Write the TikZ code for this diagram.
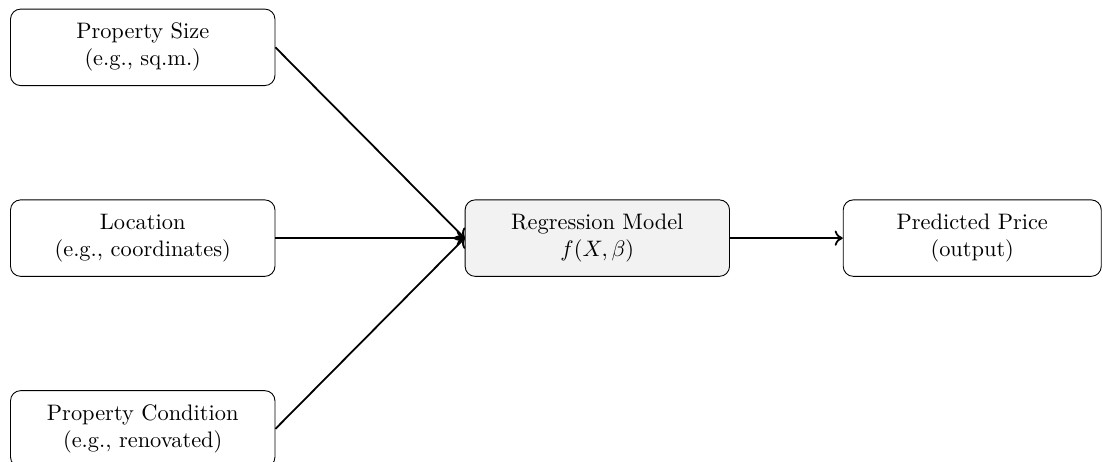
\documentclass[tikz,border=0pt]{standalone}
\usepackage{amsmath}
\usetikzlibrary{positioning, arrows.meta}
\tikzset{
  box/.style={
    rectangle, rounded corners=4.5pt,
    minimum width=4.15cm, minimum height=1.2cm,
    align=center, draw, fill=white
  },
  modelbox/.style = {box, fill=gray!10},
  outbox/.style   = {box, minimum width=4.05cm},
  arr/.style      = {-{To[length=3.6pt, width=6.8pt]}, thick},
}
\begin{document}
\begin{tikzpicture}[node distance=1.78cm and 2.97cm]

  \useasboundingbox (-2.24,3.737) rectangle ++(17.31,-7.25);

  % inputs
  \node[box]                  (loc)  {Location\\(e.g., coordinates)};
  \node[box, above=of loc]    (size) {Property Size\\(e.g., sq.m.)};
  \node[box, below=of loc]    (cond) {Property Condition\\(e.g., renovated)};

  % model and output
  \node[modelbox, right=of loc]         (model) {Regression Model\\$f(X,\beta)$};
  \node[outbox, right=1.77cm of model]  (price) {Predicted Price\\(output)};

  % arrows
  \draw[arr] (size.east) -- (model.west);
  \draw[arr] (loc.east)  -- (model.west);
  \draw[arr] (cond.east) -- (model.west);
  \draw[arr] (model) -- (price);

\end{tikzpicture}
\end{document}
